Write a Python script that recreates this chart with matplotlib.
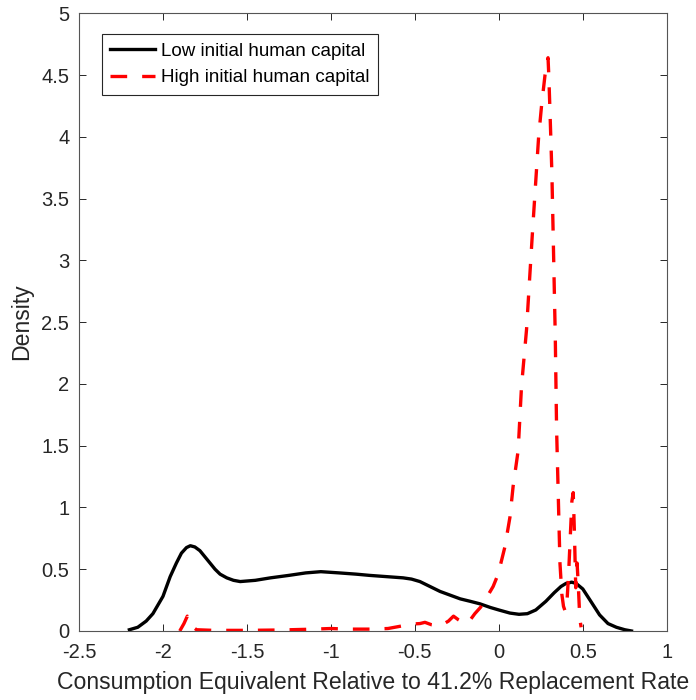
import matplotlib
matplotlib.use("Agg")
import matplotlib.pyplot as plt
import numpy as np

plt.rcParams['font.family'] = ['Liberation Sans', 'DejaVu Sans']

# low initial human capital (solid black)
low_x = [-2.2, -2.15, -2.1, -2.06, -2.0, -1.957, -1.92, -1.89, -1.86, -1.837, -1.81,
         -1.78, -1.75, -1.72, -1.69, -1.66, -1.62, -1.58, -1.54, -1.45, -1.36, -1.25,
         -1.15, -1.06, -0.95, -0.85, -0.77, -0.67, -0.57, -0.52, -0.47, -0.41, -0.35,
         -0.29, -0.23, -0.17, -0.113, -0.05, 0.0, 0.066, 0.12, 0.17, 0.22, 0.28, 0.33,
         0.37, 0.4, 0.434, 0.46, 0.5, 0.543, 0.6, 0.65, 0.7, 0.75, 0.79]
low_y = [0.01, 0.03, 0.08, 0.14, 0.28, 0.44, 0.55, 0.63, 0.675, 0.69, 0.68,
         0.65, 0.60, 0.55, 0.50, 0.46, 0.43, 0.41, 0.40, 0.41, 0.43, 0.45,
         0.47, 0.48, 0.47, 0.46, 0.45, 0.44, 0.43, 0.42, 0.40, 0.36, 0.32,
         0.29, 0.26, 0.24, 0.22, 0.19, 0.17, 0.145, 0.135, 0.14, 0.17, 0.24, 0.31,
         0.36, 0.385, 0.395, 0.385, 0.34, 0.25, 0.13, 0.06, 0.03, 0.01, 0.0]

# high initial human capital (dashed red)
high_x = [-1.9, -1.875, -1.855, -1.83, -1.8, -1.7, -1.5, -1.3, -1.1, -1.0, -0.9,
          -0.75, -0.66, -0.58, -0.53, -0.47, -0.44, -0.40, -0.35, -0.30, -0.27,
          -0.24, -0.20, -0.17, -0.143, -0.11, -0.084, -0.06, -0.034, -0.004, 0.036,
          0.066, 0.085, 0.115, 0.135, 0.165, 0.181, 0.199, 0.217, 0.237, 0.255,
          0.275, 0.293, 0.298, 0.304, 0.310, 0.316, 0.324, 0.332, 0.336, 0.344,
          0.354, 0.364, 0.375, 0.385, 0.395, 0.405, 0.415, 0.425, 0.435, 0.443,
          0.45, 0.458, 0.466, 0.474, 0.482, 0.49]
high_y = [0.0, 0.06, 0.12, 0.04, 0.01, 0.005, 0.005, 0.008, 0.015, 0.02, 0.015,
          0.015, 0.02, 0.04, 0.055, 0.06, 0.07, 0.05, 0.04, 0.08, 0.12,
          0.09, 0.06, 0.09, 0.14, 0.19, 0.24, 0.30, 0.36, 0.46, 0.68,
          0.92, 1.17, 1.46, 1.98, 2.44, 2.80, 3.20, 3.58, 4.0, 4.26,
          4.5, 4.64, 4.48, 4.23, 3.97, 3.70, 3.18, 2.65, 2.39, 1.63,
          1.09, 0.55, 0.30, 0.20, 0.16, 0.22, 0.45, 0.75, 1.05, 1.12,
          0.8, 0.35, 0.55, 0.35, 0.1, 0.03]

axcol = '#262626'

fig = plt.figure(figsize=(6.96, 7.0), dpi=100)
ax = fig.add_axes([0.1135, 0.0986, 0.8445, 0.8825])

ax.plot(low_x, low_y, color='black', lw=2.4, solid_joinstyle='round',
        label='Low initial human capital')
ax.plot(high_x, high_y, color='red', lw=2.4, dashes=(5, 4.5),
        label='High initial human capital')

ax.set_xlim(-2.5, 1)
ax.set_ylim(0, 5)
ax.set_xticks(np.arange(-2.5, 1.01, 0.5))
ax.set_xticklabels(['-2.5', '-2', '-1.5', '-1', '-0.5', '0', '0.5', '1'])
ax.set_yticks(np.arange(0, 5.01, 0.5))
ax.set_yticklabels(['0', '0.5', '1', '1.5', '2', '2.5', '3', '3.5', '4', '4.5', '5'])

ax.tick_params(direction='in', length=5, width=0.7, colors=axcol,
               labelsize=14.5, top=True, right=True)
ax.tick_params(axis='x', pad=9)
ax.tick_params(axis='y', pad=7)
for s in ax.spines.values():
    s.set_color('#555555')
    s.set_linewidth(0.8)

ax.set_xlabel('Consumption Equivalent Relative to 41.2% Replacement Rate',
              fontsize=16.6, color=axcol, labelpad=6)
ax.set_ylabel('Density', fontsize=16.6, color=axcol, labelpad=6)

leg = ax.legend(loc='upper left', bbox_to_anchor=(0.039, 0.966), fontsize=13.5,
                frameon=True, fancybox=False, framealpha=1, edgecolor=axcol,
                handlelength=2.4, handletextpad=0.3, labelspacing=0.5,
                borderpad=0.45, borderaxespad=0)
leg.get_frame().set_linewidth(0.8)

fig.savefig('out.png', dpi=100)
